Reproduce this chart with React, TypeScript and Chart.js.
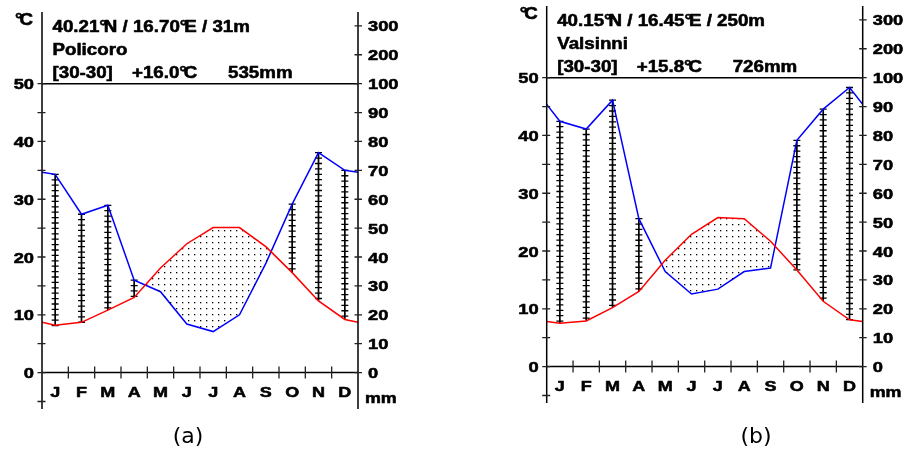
import React, { useEffect, useRef } from "react";
import { Chart, registerables } from "chart.js";

Chart.register(...registerables);

// ---------- data ----------
const months = ["J", "F", "M", "A", "M", "J", "J", "A", "S", "O", "N", "D"];

const tempPolicoro = [8.2, 8.7, 10.8, 13.0, 18.1, 22.3, 25.1, 25.1, 21.8, 17.3, 12.4, 9.2];
const precPolicoro = [68.6, 54.8, 57.9, 32.0, 28.0, 16.8, 14.2, 20.0, 37.8, 58.3, 76.1, 70.0];

const tempValsinni = [7.5, 7.9, 10.2, 13.0, 18.4, 22.9, 25.8, 25.6, 21.7, 16.7, 11.3, 8.1];
const precValsinni = [84.9, 82.2, 92.2, 51.2, 32.9, 25.1, 26.8, 32.9, 34.1, 78.3, 89.1, 96.6];

const tempTicks = [-5, 0, 5, 10, 15, 20, 25, 30, 35, 40, 45, 50];
const tempLabels = [0, 10, 20, 30, 40, 50];
const precTicks = [0, 10, 20, 30, 40, 50, 60, 70, 80, 90, 100, 200, 300];

const headerPolicoro = ["40.21°N / 16.70°E / 31m", "Policoro"];
const statsPolicoro = ["[30-30]", "+16.0°C", "535mm"];
const headerValsinni = ["40.15°N / 16.45°E / 250m", "Valsinni"];
const statsValsinni = ["[30-30]", "+15.8°C", "726mm"];

// precipitation above 100 mm is drawn at a 1/10 scale
const mmEq = (p: number) => (p <= 100 ? p : 100 + (p - 100) / 10);

const FONT = '"Liberation Sans", Arial, sans-serif';

function drawRich(
  ctx: CanvasRenderingContext2D,
  text: string,
  x: number,
  y: number,
  size: number,
  sx: number,
  align: "left" | "right" | "center"
) {
  ctx.save();
  ctx.font = `bold ${size}px ${FONT}`;
  ctx.textAlign = "left";
  ctx.textBaseline = "alphabetic";
  ctx.fillStyle = "#000";
  ctx.strokeStyle = "#000";
  ctx.lineWidth = 0.55;
  ctx.lineJoin = "round";
  const parts = text.split("°");
  const degAdv = 0.24 * size;
  let w = 0;
  parts.forEach((p, i) => {
    w += ctx.measureText(p).width;
    if (i < parts.length - 1) w += degAdv;
  });
  w *= sx;
  const x0 = align === "right" ? x - w : align === "center" ? x - w / 2 : x;
  ctx.translate(x0, y);
  ctx.scale(sx, 1);
  let cx = 0;
  parts.forEach((p, i) => {
    ctx.fillText(p, cx, 0);
    ctx.strokeText(p, cx, 0);
    cx += ctx.measureText(p).width;
    if (i < parts.length - 1) {
      ctx.fillText("°", cx, 0);
      ctx.strokeText("°", cx, 0);
      cx += degAdv;
    }
  });
  ctx.restore();
}

type PanelCfg = {
  left: number;
  width: number;
  padding: { left: number; right: number; top: number; bottom: number };
  temps: number[];
  precs: number[];
  header: string[];
  stats: string[];
};

function makePlugin(cfg: PanelCfg) {
  return {
    id: "walterLieth",
    beforeDatasetsDraw(chart: any) {
      const ctx: CanvasRenderingContext2D = chart.ctx;
      const xs = chart.scales.x;
      const ys = chart.scales.y;
      const ps = chart.scales.y2;
      ctx.save();
      // humid months: vertical hatch bars
      cfg.temps.forEach((t, i) => {
        const p = cfg.precs[i];
        const pTop = ps.getPixelForValue(mmEq(p));
        const tBot = ys.getPixelForValue(t);
        if (pTop >= tBot) return;
        const x = xs.getPixelForValue(i + 0.5);
        ctx.strokeStyle = "#000";
        ctx.lineWidth = 1.7;
        ctx.beginPath();
        ctx.moveTo(x, pTop);
        ctx.lineTo(x, tBot);
        ctx.stroke();
        ctx.lineWidth = 1.3;
        ctx.strokeStyle = "#000";
        ctx.beginPath();
        for (let yy = pTop; yy <= tBot + 0.5; yy += 5.4) {
          ctx.moveTo(x - 3.5, yy);
          ctx.lineTo(x + 3.5, yy);
        }
        ctx.stroke();
      });
      ctx.restore();
    },
    afterDatasetsDraw(chart: any) {
      const ctx: CanvasRenderingContext2D = chart.ctx;
      const xs = chart.scales.x;
      const ys = chart.scales.y;
      const ps = chart.scales.y2;
      const area = chart.chartArea;
      const L = area.left;
      const R = area.right;
      const y0 = ys.getPixelForValue(0);
      const y50 = ys.getPixelForValue(50);
      ctx.save();
      ctx.strokeStyle = "#000";
      ctx.lineWidth = 1.5;
      ctx.beginPath();
      // axes
      ctx.moveTo(L, area.top);
      ctx.lineTo(L, area.bottom);
      ctx.moveTo(R, area.top);
      ctx.lineTo(R, area.bottom);
      // 0 and 50 lines
      ctx.moveTo(L, y0);
      ctx.lineTo(R, y0);
      ctx.moveTo(L, y50);
      ctx.lineTo(R, y50);
      ctx.stroke();

      ctx.strokeStyle = "#222";
      ctx.lineWidth = 1.3;
      ctx.beginPath();
      tempTicks.forEach((t) => {
        const y = ys.getPixelForValue(t);
        ctx.moveTo(L - 4.5, y);
        ctx.lineTo(L + 3.5, y);
      });
      precTicks.forEach((p) => {
        const y = ps.getPixelForValue(mmEq(p));
        ctx.moveTo(R - 3.5, y);
        ctx.lineTo(R + 4, y);
      });
      for (let i = 1; i < 12; i++) {
        const x = xs.getPixelForValue(i);
        ctx.moveTo(x, y0 - 6);
        ctx.lineTo(x, y0 + 6);
      }
      ctx.stroke();

      // labels
      tempLabels.forEach((t) => {
        drawRich(ctx, String(t), L - 8, ys.getPixelForValue(t) + 5.5, 15, 1.22, "right");
      });
      precTicks.forEach((p) => {
        drawRich(ctx, String(p), R + 10, ps.getPixelForValue(mmEq(p)) + 5.5, 15, 1.22, "left");
      });
      months.forEach((m, i) => {
        drawRich(ctx, m, xs.getPixelForValue(i + 0.5), y0 + 24, 15, 1.2, "center");
      });
      drawRich(ctx, "mm", R + 7, y0 + 30, 15, 1.19, "left");
      drawRich(ctx, "°C", L - 9, area.top + 13, 16, 1.17, "right");

      // header
      const hx = L + 10.5;
      drawRich(ctx, cfg.header[0], hx, area.top + 20, 16, 1.17, "left");
      drawRich(ctx, cfg.header[1], hx, area.top + 42.5, 16, 1.17, "left");
      drawRich(ctx, cfg.stats[0], hx, area.top + 66, 16, 1.17, "left");
      drawRich(ctx, cfg.stats[1], L + 90, area.top + 66, 16, 1.17, "left");
      drawRich(ctx, cfg.stats[2], L + 186, area.top + 66, 16, 1.17, "left");
      ctx.restore();
    },
  };
}

function Panel({ cfg }: { cfg: PanelCfg }) {
  const ref = useRef<HTMLCanvasElement>(null);
  useEffect(() => {
    const canvas = ref.current!;
    const ctx = canvas.getContext("2d")!;
    const pc = document.createElement("canvas");
    pc.width = 6;
    pc.height = 6;
    const g = pc.getContext("2d")!;
    g.fillStyle = "#000";
    g.fillRect(2, 2, 1.3, 1.3);
    const pattern = ctx.createPattern(pc, "repeat")!;

    const tEdge = (cfg.temps[0] + cfg.temps[11]) / 2;
    const pEdge = (cfg.precs[0] + cfg.precs[11]) / 2;
    const tData = [{ x: 0, y: tEdge }, ...cfg.temps.map((t, i) => ({ x: i + 0.5, y: t })), { x: 12, y: tEdge }];
    const pData = [
      { x: 0, y: mmEq(pEdge) },
      ...cfg.precs.map((p, i) => ({ x: i + 0.5, y: mmEq(p) })),
      { x: 12, y: mmEq(pEdge) },
    ];

    const chart = new Chart(ctx, {
      type: "line",
      data: {
        datasets: [
          {
            label: "Temperature",
            data: tData,
            yAxisID: "y",
            borderColor: "#ff0000",
            borderWidth: 1.5,
            pointRadius: 0,
            tension: 0,
            fill: { target: 1, above: pattern, below: "rgba(0,0,0,0)" } as any,
          },
          {
            label: "Precipitation",
            data: pData,
            yAxisID: "y2",
            borderColor: "#0000ff",
            borderWidth: 1.5,
            pointRadius: 0,
            tension: 0,
            fill: false,
          },
        ],
      },
      options: {
        animation: false,
        responsive: false,
        devicePixelRatio: 1,
        layout: { padding: cfg.padding },
        plugins: { legend: { display: false }, tooltip: { enabled: false } },
        scales: {
          x: { type: "linear", min: 0, max: 12, display: false },
          y: { type: "linear", min: -6.3, max: 62.4, display: false },
          y2: { type: "linear", min: -12.6, max: 124.8, display: false, position: "right" },
        },
      },
      plugins: [makePlugin(cfg)],
    });
    return () => chart.destroy();
  }, []);
  return (
    <canvas
      ref={ref}
      width={cfg.width}
      height={452}
      style={{ position: "absolute", left: cfg.left, top: 0, width: cfg.width, height: 452 }}
    />
  );
}

const panelA: PanelCfg = {
  left: 0,
  width: 454,
  padding: { left: 42, right: 96, top: 12, bottom: 43 },
  temps: tempPolicoro,
  precs: precPolicoro,
  header: headerPolicoro,
  stats: statsPolicoro,
};

const panelB: PanelCfg = {
  left: 454,
  width: 454,
  padding: { left: 92.7, right: 45.3, top: 6, bottom: 49 },
  temps: tempValsinni,
  precs: precValsinni,
  header: headerValsinni,
  stats: statsValsinni,
};

const captionStyle: React.CSSProperties = {
  position: "absolute",
  top: 425,
  transform: "translateX(-50%)",
  font: '22px "DejaVu Sans", sans-serif',
  lineHeight: "22px",
  whiteSpace: "nowrap",
  color: "#000",
};

export default function App() {
  return (
    <div style={{ position: "fixed", left: 0, top: 0, width: 908, height: 452, background: "#fff", overflow: "hidden" }}>
      <Panel cfg={panelA} />
      <Panel cfg={panelB} />
      <div style={{ ...captionStyle, left: 188 }}>(a)</div>
      <div style={{ ...captionStyle, left: 756 }}>(b)</div>
    </div>
  );
}
